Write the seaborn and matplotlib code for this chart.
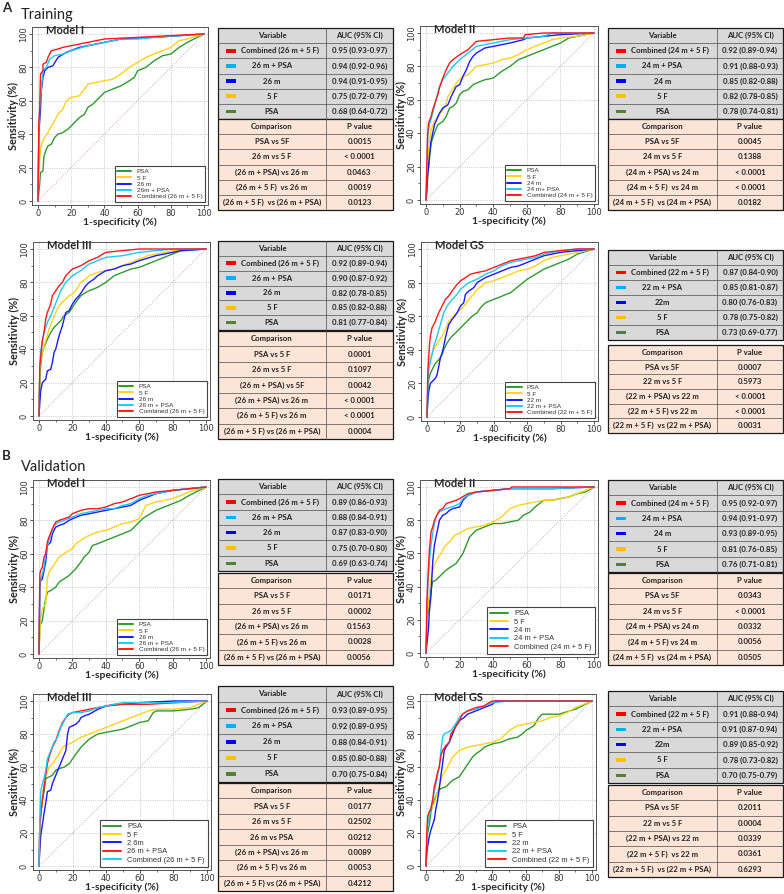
import numpy as np
import pandas as pd
import matplotlib
matplotlib.use("Agg")
import matplotlib.pyplot as plt
import seaborn as sns
from matplotlib.patches import Rectangle
from matplotlib.lines import Line2D

# ---------------- DATA ----------------
# ROC curves as (1-specificity %, sensitivity %) points
# Training - Model I
tr1_psa = [(0,0),(0.5,5),(1,10),(1.5,17),(3,18),(3.5,26),(4,28),(5,31),(6,33),(8,34),(10,38),(12,40),(15,41),(18,43),(20,45),(22,47),(25,50),(28,52),(30,56),(33,58),(35,60),(38,63),(40,65),(45,67),(50,69),(55,72),(58,74),(60,78),(65,80),(70,84),(75,87),(80,88),(85,92),(90,95),(100,100)]
tr1_5f = [(0,0),(0.5,17),(1,25),(1.5,31),(2.5,35),(4,38),(6,41),(8,45),(10,48),(12,52),(15,55),(17,60),(20,62),(25,63),(28,67),(30,70),(35,71),(40,72),(45,73),(50,76),(55,80),(60,83),(65,86),(70,88),(75,90),(80,92),(85,96),(90,97),(100,100)]
tr1_m = [(0,0),(0.5,40),(1.5,55),(2,66),(3,74),(4,78),(6,80),(9,81),(12,86),(17,89),(25,92),(30,93),(40,95),(50,97),(70,98),(100,100)]
tr1_mpsa = [(0,0),(0.5,40),(1,55),(2,67),(3,78),(5,80),(7,85),(10,87),(15,88),(20,90),(30,93),(40,95),(50,97),(60,97),(70,98),(100,100)]
tr1_comb = [(0,0),(0.5,47),(1,55),(1.5,76),(3,78),(3,82),(5,83),(6,86),(8,90),(12,91),(15,92),(20,93),(30,95),(40,97),(60,98),(80,99),(100,100)]
# Training - Model II
tr2_psa = [(0,0),(0.5,5),(1,15),(2,24),(3,34),(5,40),(7,45),(10,47),(12,50),(14,55),(16,56),(18,58),(20,63),(22,65),(25,66),(28,69),(30,70),(35,72),(40,73),(45,77),(50,80),(55,84),(60,86),(65,88),(70,90),(75,92),(80,94),(85,97),(90,98),(100,100)]
tr2_5f = [(0,0),(0.5,10),(1,22),(2,35),(3,42),(5,47),(8,51),(10,54),(12,58),(13,62),(15,65),(18,70),(20,72),(22,74),(25,75),(28,78),(30,80),(35,81),(40,82),(45,84),(50,85),(55,87),(60,90),(65,92),(70,94),(75,96),(80,97),(90,98),(100,100)]
tr2_m = [(0,0),(0.5,6),(1,15),(1.5,20),(2,26),(3,35),(5,45),(8,52),(10,55),(13,57),(15,62),(18,68),(20,69),(22,74),(24,78),(26,83),(28,86),(30,88),(35,91),(40,92),(50,94),(58,96),(60,97),(70,98),(80,99),(100,100)]
tr2_mpsa = [(0,0),(0.5,20),(1,38),(2,45),(4,52),(6,60),(8,68),(10,72),(13,76),(16,80),(20,84),(25,88),(30,92),(40,94),(50,96),(60,97),(70,98),(75,100),(100,100)]
tr2_comb = [(0,0),(0.5,22),(1,40),(1.5,46),(3,50),(4,54),(5,57),(6,60),(7,63),(8,67),(9,70),(10,73),(12,78),(14,82),(16,84),(20,87),(25,90),(30,95),(40,96),(50,97),(58,97),(59,99),(70,100),(100,100)]
# Training - Model III
tr3_psa = [(0,0),(0.5,25),(1,30),(2,38),(3,41),(5,46),(7,50),(9,53),(11,55),(13,57),(15,60),(18,62),(20,65),(22,68),(25,72),(28,74),(30,75),(35,77),(40,80),(45,84),(50,86),(55,88),(60,89),(65,91),(70,93),(75,95),(80,97),(85,99),(100,100)]
tr3_5f = [(0,0),(0.5,25),(1,33),(2,38),(4,45),(6,52),(8,57),(10,62),(12,66),(15,69),(18,72),(20,73),(22,75),(25,80),(28,82),(30,84),(35,86),(40,87),(45,88),(50,90),(55,92),(60,94),(65,96),(70,97),(80,99),(90,100),(100,100)]
tr3_m = [(0,0),(0.5,8),(1,15),(2,20),(4,22),(5,27),(7,28),(8,32),(9,38),(10,40),(11,44),(12,48),(14,54),(15,58),(16,62),(18,63),(20,67),(22,70),(24,72),(26,75),(28,78),(30,80),(33,82),(35,84),(40,87),(45,88),(50,90),(55,91),(60,93),(70,96),(80,98),(85,99),(100,100)]
tr3_mpsa = [(0,0),(0.5,30),(1,38),(2,45),(3,50),(5,56),(7,60),(9,65),(11,70),(13,75),(16,80),(20,84),(25,87),(30,91),(35,93),(40,95),(50,96),(60,98),(70,99),(80,100),(100,100)]
tr3_comb = [(0,0),(0.5,30),(1,35),(1.5,40),(2,45),(3,50),(4,58),(5,62),(7,67),(8,72),(10,75),(12,78),(14,80),(16,84),(18,86),(20,88),(25,90),(30,93),(35,95),(40,98),(50,99),(60,100),(100,100)]
# Training - Model GS
tr4_psa = [(0,0),(0.5,15),(1,22),(2,26),(3,28),(5,32),(7,34),(9,37),(10,40),(12,44),(14,47),(16,49),(18,51),(20,53),(23,56),(25,58),(27,60),(30,62),(32,65),(35,68),(40,70),(45,72),(50,74),(55,78),(60,82),(65,85),(70,88),(75,90),(80,92),(85,94),(90,97),(100,100)]
tr4_5f = [(0,0),(0.5,20),(1,28),(2,35),(3,38),(5,42),(7,45),(9,48),(11,52),(13,57),(15,59),(18,62),(20,64),(23,67),(25,70),(28,73),(30,76),(33,78),(35,80),(40,81),(45,83),(50,85),(55,87),(60,88),(65,90),(70,93),(75,95),(80,96),(90,98),(100,100)]
tr4_m = [(0,0),(0.5,10),(1,15),(2,20),(3,21),(5,23),(6,25),(7,30),(8,35),(9,38),(10,42),(11,47),(13,55),(15,58),(18,62),(20,66),(22,68),(23,73),(25,75),(28,77),(30,80),(35,83),(40,85),(45,87),(50,89),(55,90),(60,92),(65,94),(70,96),(80,98),(90,99),(100,100)]
tr4_mpsa = [(0,0),(0.5,20),(1,28),(2,33),(3,37),(4,42),(6,48),(8,55),(10,62),(12,66),(15,70),(18,73),(20,76),(25,80),(30,82),(35,85),(40,87),(45,90),(50,92),(55,93),(60,94),(65,95),(70,97),(80,99),(90,100),(100,100)]
tr4_comb = [(0,0),(0.5,27),(1,35),(1.5,43),(2,48),(3,53),(5,57),(7,62),(9,66),(11,70),(13,72),(15,75),(18,79),(20,81),(23,83),(26,85),(30,86),(35,87),(40,89),(45,91),(50,93),(60,95),(65,96),(70,98),(80,99),(90,100),(100,100)]
# Validation - Model I
va1_psa = [(0,0),(0.5,15),(1,18),(2,20),(3,27),(4,33),(5,37),(7,38),(10,40),(12,43),(15,45),(18,47),(20,49),(22,51),(25,55),(27,58),(30,61),(32,65),(35,66),(40,68),(45,70),(50,72),(55,74),(58,77),(60,79),(62,81),(65,83),(70,86),(75,88),(80,90),(85,92),(90,95),(100,100)]
va1_5f = [(0,0),(0.5,12),(1,22),(2,27),(4,30),(4.5,38),(5,45),(6,49),(8,52),(10,55),(12,58),(15,60),(18,62),(20,63),(22,66),(25,68),(28,70),(30,71),(35,73),(40,74),(45,76),(50,78),(55,79),(60,81),(62,85),(64,89),(67,90),(70,91),(75,92),(80,93),(85,95),(90,97),(100,100)]
va1_m = [(0,0),(0.5,40),(1,44),(2,45),(3,50),(4,55),(5,65),(7,67),(8,72),(10,76),(12,77),(15,78),(18,80),(20,81),(25,83),(30,84),(35,85),(40,86),(45,87),(50,88),(55,89),(60,92),(65,94),(70,96),(80,98),(90,99),(100,100)]
va1_mpsa = [(0,0),(0.5,42),(1,45),(2,48),(3,52),(4,60),(5,65),(7,71),(9,77),(12,79),(15,80),(20,82),(25,84),(30,85),(35,86),(40,87),(45,87),(50,89),(55,90),(60,93),(65,95),(70,96),(80,98),(90,99),(100,100)]
va1_comb = [(0,0),(0.5,48),(1,50),(2,52),(3,58),(4,60),(5,67),(6,70),(8,75),(10,79),(12,80),(15,81),(18,82),(20,84),(25,86),(30,87),(35,87),(40,88),(45,90),(50,91),(55,93),(60,95),(65,96),(70,97),(80,98),(90,99),(100,100)]
# Validation - Model II
va2_psa = [(0,0),(0.5,15),(1,23),(2,30),(3,38),(4,43),(6,44),(8,46),(10,48),(12,50),(15,52),(18,54),(20,57),(22,60),(24,65),(26,70),(28,72),(30,74),(35,76),(40,78),(45,78),(50,79),(55,80),(58,83),(62,85),(65,88),(70,92),(75,92),(80,93),(85,94),(90,96),(95,97),(100,100)]
va2_5f = [(0,0),(0.5,15),(1,25),(2,38),(3,45),(4,50),(5,53),(7,57),(9,60),(11,64),(13,66),(15,68),(17,71),(20,72),(23,74),(25,75),(30,76),(35,77),(40,79),(45,82),(48,85),(50,87),(55,89),(60,90),(65,91),(70,92),(75,92),(80,93),(85,94),(90,96),(100,100)]
va2_m = [(0,0),(0.5,5),(1,10),(1.5,15),(2,25),(3,35),(4,55),(5,65),(6,70),(7,75),(8,80),(10,83),(12,84),(14,86),(16,87),(20,88),(22,92),(25,95),(30,97),(40,98),(50,99),(75,99),(100,100)]
va2_mpsa = [(0,0),(0.5,20),(1,40),(2,55),(3,65),(4,72),(5,78),(6,82),(8,85),(10,86),(12,87),(15,88),(18,89),(20,90),(22,93),(25,95),(30,97),(40,98),(50,99),(75,99),(100,100)]
va2_comb = [(0,0),(0.5,30),(1,42),(2,62),(3,73),(4,76),(5,80),(7,84),(8,86),(10,87),(12,90),(15,91),(18,92),(20,93),(25,96),(30,97),(40,98),(50,99),(51,100),(100,100)]
# Validation - Model III
va3_psa = [(0,0),(0.5,25),(1,32),(2,40),(3,45),(4,53),(6,54),(8,55),(10,58),(12,59),(15,60),(18,62),(20,65),(22,68),(25,72),(28,75),(30,77),(35,80),(40,81),(45,82),(50,83),(55,85),(60,87),(65,88),(68,93),(70,94),(80,94),(90,95),(95,96),(100,100)]
va3_5f = [(0,0),(0.5,15),(1,30),(2,42),(3,50),(4,55),(5,57),(6,60),(8,62),(10,65),(12,68),(14,72),(16,73),(20,75),(25,78),(30,80),(35,82),(40,84),(45,86),(50,88),(55,90),(60,92),(65,94),(70,95),(80,95),(90,96),(100,100)]
va3_m = [(0,0),(0.5,10),(1,18),(2,25),(3,32),(4,38),(5,45),(7,46),(8,50),(10,55),(12,60),(14,65),(16,70),(17,80),(18,84),(20,85),(22,86),(24,88),(25,90),(27,91),(30,92),(35,95),(40,97),(50,98),(60,99),(80,100),(100,100)]
va3_red = [(0,0),(0.5,25),(1,30),(2,40),(3,48),(4,55),(5,62),(6,66),(8,72),(10,76),(12,82),(14,87),(16,90),(18,92),(20,93),(25,94),(30,95),(35,96),(40,97),(45,98),(65,98),(100,100)]
va3_cyan = [(0,0),(0.5,28),(1,45),(2,50),(3,53),(4,58),(5,65),(7,70),(9,75),(11,78),(13,84),(15,88),(17,92),(20,93),(25,93),(30,94),(35,96),(40,97),(50,99),(60,99),(80,99),(100,100)]
# Validation - Model GS
va4_psa = [(0,0),(0.5,15),(1,20),(2,25),(3,33),(4,37),(5,40),(7,45),(9,47),(12,48),(14,50),(16,52),(18,53),(20,54),(22,57),(24,60),(26,63),(28,66),(30,68),(33,70),(35,72),(40,74),(45,75),(50,77),(55,78),(58,80),(60,82),(65,85),(68,90),(70,92),(80,92),(90,95),(100,100)]
va4_5f = [(0,0),(0.5,22),(1,28),(2,33),(3,35),(5,38),(7,45),(10,55),(12,58),(14,62),(16,66),(18,68),(20,70),(25,72),(30,73),(35,74),(40,75),(45,77),(48,80),(50,82),(55,85),(60,86),(65,87),(70,88),(75,90),(80,91),(85,93),(90,96),(100,100)]
va4_m = [(0,0),(0.5,8),(1,12),(2,18),(3,22),(4,25),(5,28),(6,35),(7,40),(8,47),(9,55),(10,62),(11,70),(12,72),(14,75),(16,80),(18,85),(20,88),(23,90),(25,92),(30,94),(35,96),(40,98),(42,100),(100,100)]
va4_mpsa = [(0,0),(0.5,15),(1,25),(2,30),(3,35),(4,40),(5,45),(6,50),(7,55),(8,60),(9,70),(10,78),(11,80),(13,81),(15,82),(17,85),(19,88),(20,90),(22,92),(25,94),(30,95),(35,97),(40,99),(50,100),(100,100)]
va4_comb = [(0,0),(0.5,20),(1,30),(2,33),(3,35),(4,40),(5,48),(6,52),(7,57),(8,60),(9,67),(10,70),(12,73),(14,75),(15,80),(17,83),(19,86),(20,88),(22,92),(25,94),(30,96),(35,97),(38,99),(40,100),(100,100)]

# Panel titles and legend labels
titles = ["Model I", "Model II", "Model III", "Model GS", "Model I", "Model II", "Model III", "Model GS"]
leg_tr1 = ["PSA", "5 F", "26 m", "26m + PSA", "Combined (26 m + 5 F)"]
leg_tr2 = ["PSA", "5 F", "24 m", "24 m+ PSA", "Combined (24 m + 5 F)"]
leg_tr3 = ["PSA", "5 F", "26 m", "26 m + PSA", "Combined (26 m + 5 F)"]
leg_tr4 = ["PSA", "5 F", "22 m", "22 m + PSA", "Combined (22 m + 5 F)"]
leg_va1 = ["PSA", "5 F", "26 m", "26 m + PSA", "Combined (26 m + 5 F)"]
leg_va2 = ["PSA", "5 F", "24 m", "24 m + PSA", "Combined (24 m + 5 F)"]
leg_va3 = ["PSA", "5 F", "2 6m", "26 m + PSA", "Combined (26 m + 5 F)"]
leg_va4 = ["PSA", "5 F", "22 m", "22 m + PSA", "Combined (22 m + 5 F)"]

# AUC tables
auc_vars_tr1 = ["Combined (26 m + 5 F)", "26 m + PSA", "26 m", "5 F", "PSA"]
auc_vals_tr1 = ["0.95 (0.93-0.97)", "0.94 (0.92-0.96)", "0.94 (0.91-0.95)", "0.75 (0.72-0.79)", "0.68 (0.64-0.72)"]
auc_vars_tr2 = ["Combined (24 m + 5 F)", "24 m + PSA", "24 m", "5 F", "PSA"]
auc_vals_tr2 = ["0.92 (0.89-0.94)", "0.91 (0.88-0.93)", "0.85 (0.82-0.88)", "0.82 (0.78-0.85)", "0.78 (0.74-0.81)"]
auc_vars_tr3 = ["Combined (26 m + 5 F)", "26 m + PSA", "26 m", "5 F", "PSA"]
auc_vals_tr3 = ["0.92 (0.89-0.94)", "0.90 (0.87-0.92)", "0.82 (0.78-0.85)", "0.85 (0.82-0.88)", "0.81 (0.77-0.84)"]
auc_vars_tr4 = ["Combined (22 m + 5 F)", "22 m + PSA", "22m", "5 F", "PSA"]
auc_vals_tr4 = ["0.87 (0.84-0.90)", "0.85 (0.81-0.87)", "0.80 (0.76-0.83)", "0.78 (0.75-0.82)", "0.73 (0.69-0.77)"]
auc_vars_va1 = ["Combined (26 m + 5 F)", "26 m + PSA", "26 m", "5 F", "PSA"]
auc_vals_va1 = ["0.89 (0.86-0.93)", "0.88 (0.84-0.91)", "0.87 (0.83-0.90)", "0.75 (0.70-0.80)", "0.69 (0.63-0.74)"]
auc_vars_va2 = ["Combined (24 m + 5 F)", "24 m + PSA", "24 m", "5 F", "PSA"]
auc_vals_va2 = ["0.95 (0.92-0.97)", "0.94 (0.91-0.97)", "0.93 (0.89-0.95)", "0.81 (0.76-0.85)", "0.76 (0.71-0.81)"]
auc_vars_va3 = ["Combined (26 m + 5 F)", "26 m + PSA", "26 m", "5 F", "PSA"]
auc_vals_va3 = ["0.93 (0.89-0.95)", "0.92 (0.89-0.95)", "0.88 (0.84-0.91)", "0.85 (0.80-0.88)", "0.70 (0.75-0.84)"]
auc_vars_va4 = ["Combined (22 m + 5 F)", "22 m + PSA", "22m", "5 F", "PSA"]
auc_vals_va4 = ["0.91 (0.88-0.94)", "0.91 (0.87-0.94)", "0.89 (0.85-0.92)", "0.78 (0.73-0.82)", "0.70 (0.75-0.79)"]

# Comparison tables
cmp_tr1 = ["PSA vs 5F", "26 m vs 5 F", "(26 m + PSA) vs 26 m", "(26 m + 5 F)  vs 26 m", "(26 m + 5 F)  vs (26 m + PSA)"]
pv_tr1 = ["0.0015", "< 0.0001", "0.0463", "0.0019", "0.0123"]
cmp_tr2 = ["PSA vs 5F", "24 m vs 5 F", "(24 m + PSA) vs 24 m", "(24 m + 5 F)  vs 24 m", "(24 m + 5 F)  vs (24 m + PSA)"]
pv_tr2 = ["0.0045", "0.1388", "< 0.0001", "< 0.0001", "0.0182"]
cmp_tr3 = ["PSA vs 5 F", "26 m vs 5 F", "(26 m + PSA) vs 5F", "(26 m + PSA) vs 26 m", "(26 m + 5 F) vs 26 m", "(26 m + 5 F) vs (26 m + PSA)"]
pv_tr3 = ["0.0001", "0.1097", "0.0042", "< 0.0001", "< 0.0001", "0.0004"]
cmp_tr4 = ["PSA vs 5F", "22 m vs 5 F", "(22 m + PSA) vs 22 m", "(22 m + 5 F) vs 22 m", "(22 m + 5 F)  vs (22 m + PSA)"]
pv_tr4 = ["0.0007", "0.5973", "< 0.0001", "< 0.0001", "0.0031"]
cmp_va1 = ["PSA vs 5 F", "26 m vs 5 F", "(26 m + PSA) vs 26 m", "(26 m + 5 F) vs 26 m", "(26 m + 5 F) vs (26 m + PSA)"]
pv_va1 = ["0.0171", "0.0002", "0.1563", "0.0028", "0.0056"]
cmp_va2 = ["PSA vs 5F", "24 m vs 5 F", "(24 m + PSA) vs 24 m", "(24 m + 5 F) vs 24 m", "(24 m + 5 F)  vs (24 m + PSA)"]
pv_va2 = ["0.0343", "< 0.0001", "0.0332", "0.0056", "0.0505"]
cmp_va3 = ["PSA vs 5 F", "26 m vs 5 F", "26 m vs PSA", "(26 m + PSA) vs 26 m", "(26 m + 5 F) vs 26 m", "(26 m + 5 F) vs (26 m + PSA)"]
pv_va3 = ["0.0177", "0.2502", "0.0212", "0.0089", "0.0053", "0.4212"]
cmp_va4 = ["PSA vs 5F", "22 m vs 5 F", "(22 m + PSA) vs 22 m", "(22 m + 5 F)  vs 22 m", "(22 m + 5 F)  vs (22 m + PSA)"]
pv_va4 = ["0.2011", "0.0004", "0.0339", "0.0361", "0.6293"]

# ---------------- STYLE ----------------
sns.set_theme(style="white")
plt.rcParams["font.family"] = ["DejaVu Sans"]
LBL_FONT = ["Lato", "DejaVu Sans"]
TBL_FONT = ["Lato", "DejaVu Sans"]
LEG_FONT = ["Liberation Sans", "DejaVu Sans"]

C_PSA, C_5F, C_M, C_CY, C_RED = "#2f9a2f", "#ffd21a", "#1a1aff", "#1ec8ff", "#ff1a1a"
SW_COLORS = ["#ff0000", "#00b0f0", "#0000ff", "#ffc000", "#548235"]
GREY_FILL = "#d9d9d9"
PEACH_FILL = "#fce4d6"

W, H = 784, 894
fig = plt.figure(figsize=(W / 100, H / 100), dpi=100)
fig.patch.set_facecolor("white")

ov = fig.add_axes([0, 0, 1, 1])
ov.set_xlim(0, W)
ov.set_ylim(H, 0)
ov.axis("off")
ov.patch.set_alpha(0)

XL = (-3.5, 102.5)
YL = (-2.5, 104.0)


def draw_roc(anchor, title, curves, labels, colors, big):
    x0, x100, y100, y0 = anchor
    sx = (x100 - x0) / 100.0
    sy = (y0 - y100) / 100.0
    left = x0 + XL[0] * sx
    right = x0 + XL[1] * sx
    top = y100 - (YL[1] - 100) * sy
    bottom = y0 - YL[0] * sy
    ax = fig.add_axes([left / W, 1 - bottom / H, (right - left) / W, (bottom - top) / H])
    rows = []
    for lab, pts in zip(labels, curves):
        for i, (fx, fy) in enumerate(pts):
            rows.append({"fpr": fx, "tpr": fy, "var": lab, "k": i})
    df = pd.DataFrame(rows)
    ax.grid(True, which="major", color="#b8b8b8", linestyle=":", linewidth=0.6)
    ax.plot([0, 100], [0, 100], color="#d8a0a0", linestyle=":", linewidth=0.7, zorder=1)
    sns.lineplot(data=df, x="fpr", y="tpr", hue="var", hue_order=labels,
                 palette=dict(zip(labels, colors)), sort=False, estimator=None,
                 linewidth=1.0, ax=ax, legend=False, zorder=3)
    ax.set_xlim(*XL)
    ax.set_ylim(*YL)
    ax.set_xticks(range(0, 101, 20))
    ax.set_yticks(range(0, 101, 20))
    ax.set_xticks(range(0, 101, 10), minor=True)
    ax.set_yticks(range(0, 101, 10), minor=True)
    ax.tick_params(axis="both", which="major", labelsize=6, length=2, width=0.6,
                   pad=1, colors="#333333", bottom=True, left=True, direction="out")
    ax.tick_params(axis="both", which="minor", length=1.3, width=0.5, bottom=True,
                   left=True, colors="#333333", direction="out")
    for lab in ax.get_yticklabels():
        lab.set_rotation(90)
        lab.set_va("center")
    for s in ax.spines.values():
        s.set_color("#555555")
        s.set_linewidth(0.7)
    ax.set_xlabel("1-specificity (%)", fontsize=7.5, fontweight="bold", family=LBL_FONT, labelpad=-0.5)
    ax.set_ylabel("Sensitivity (%)", fontsize=7.8, fontweight="bold", family=LBL_FONT, labelpad=0)
    ax.text(5, 102, title, fontsize=8, fontweight="bold", family=LBL_FONT,
            ha="left", va="center", zorder=5)
    handles = [Line2D([0], [0], color=c, lw=1.4) for c in colors]
    fs = 5.4 if big else 4.6
    leg = ax.legend(handles, labels, loc="lower right", bbox_to_anchor=(100.5, -0.5),
                    bbox_transform=ax.transData, frameon=True, fancybox=False,
                    prop={"family": LEG_FONT, "size": fs},
                    edgecolor="#444444", framealpha=1, borderaxespad=0,
                    handlelength=2.4 if big else 2.2, handletextpad=0.8,
                    labelspacing=0.15 if big else 0.12, borderpad=0.4)
    leg.get_frame().set_linewidth(0.8)
    for t in leg.get_texts():
        t.set_color("#333333")
    leg.set_zorder(6)
    return ax


def draw_table(xl, xs, xr, yt, yb, header, col1, col2, fill, swatch=False):
    n = len(col1) + 1
    h = (yb - yt) / n
    ov.add_patch(Rectangle((xl, yt), xr - xl, yb - yt, facecolor=fill,
                           edgecolor="#1a1a1a", linewidth=0.9, zorder=1))
    for i in range(1, n):
        ov.plot([xl, xr], [yt + i * h, yt + i * h], color="#4d4d4d", lw=0.5, zorder=2)
    ov.plot([xs, xs], [yt, yb], color="#4d4d4d", lw=0.5, zorder=2)
    c1 = (xl + xs) / 2
    c2 = (xs + xr) / 2
    fs = 5.6
    kw = dict(fontsize=fs, fontweight="bold", family=TBL_FONT, color="#222222",
              va="center", zorder=3)
    ov.text(c1, yt + h / 2, header[0], ha="center", **kw)
    ov.text(c2, yt + h / 2, header[1], ha="center", **kw)
    for i, (a, b) in enumerate(zip(col1, col2)):
        yc = yt + (i + 1.5) * h
        if swatch:
            ov.add_patch(Rectangle((xl + 8, yc - 1.8), 10, 3.6, facecolor=SW_COLORS[i],
                                   edgecolor="none", zorder=3))
            if i == 0:
                ov.text(xl + 23, yc, a, ha="left", **kw)
            else:
                ov.text(c1, yc, a, ha="center", **kw)
        else:
            ov.text(c1, yc, a, ha="center", **kw)
        ov.text(c2, yc, b, ha="center", **kw)


# ---------------- LAYOUT ----------------
cols5 = [C_PSA, C_5F, C_M, C_CY, C_RED]
cols_va3 = [C_PSA, C_5F, C_M, C_RED, C_CY]

panels = [
    ((38, 204, 34, 201), [tr1_psa, tr1_5f, tr1_m, tr1_mpsa, tr1_comb], leg_tr1, cols5, False),
    ((426, 594, 33, 200), [tr2_psa, tr2_5f, tr2_m, tr2_mpsa, tr2_comb], leg_tr2, cols5, False),
    ((39, 206, 249, 416), [tr3_psa, tr3_5f, tr3_m, tr3_mpsa, tr3_comb], leg_tr3, cols5, False),
    ((427, 594, 249, 417), [tr4_psa, tr4_5f, tr4_m, tr4_mpsa, tr4_comb], leg_tr4, cols5, False),
    ((39, 206, 487, 654), [va1_psa, va1_5f, va1_m, va1_mpsa, va1_comb], leg_va1, cols5, False),
    ((426, 594, 487, 653), [va2_psa, va2_5f, va2_m, va2_mpsa, va2_comb], leg_va2, cols5, True),
    ((39, 207, 701, 866), [va3_psa, va3_5f, va3_m, va3_red, va3_cyan], leg_va3, cols_va3, True),
    ((426, 592, 701, 866), [va4_psa, va4_5f, va4_m, va4_mpsa, va4_comb], leg_va4, cols5, True),
]
for (anc, curves, labs, cols, big), ttl in zip(panels, titles):
    draw_roc(anc, ttl, curves, labs, cols, big)

tables = [
    ((218, 326, 393), (28, 119), (119, 210), auc_vars_tr1, auc_vals_tr1, cmp_tr1, pv_tr1),
    ((608, 717, 783), (28, 119), (119, 210), auc_vars_tr2, auc_vals_tr2, cmp_tr2, pv_tr2),
    ((218, 326, 393), (241, 330), (331, 439), auc_vars_tr3, auc_vals_tr3, cmp_tr3, pv_tr3),
    ((608, 717, 783), (250, 340), (345, 433), auc_vars_tr4, auc_vals_tr4, cmp_tr4, pv_tr4),
    ((218, 326, 393), (479, 571), (573, 665), auc_vars_va1, auc_vals_va1, cmp_va1, pv_va1),
    ((608, 717, 783), (480, 572), (573, 665), auc_vars_va2, auc_vals_va2, cmp_va2, pv_va2),
    ((218, 326, 393), (686, 782), (783, 891), auc_vars_va3, auc_vals_va3, cmp_va3, pv_va3),
    ((608, 717, 783), (691, 783), (785, 877), auc_vars_va4, auc_vals_va4, cmp_va4, pv_va4),
]
for (xl, xs, xr), (at, ab), (pt, pb), v1, v2, c1, c2 in tables:
    draw_table(xl, xs, xr, at, ab, ("Variable", "AUC (95% CI)"), v1, v2, GREY_FILL, swatch=True)
    draw_table(xl, xs, xr, pt, pb, ("Comparison", "P value"), c1, c2, PEACH_FILL)

# Section labels
ov.text(2, 8, "A", fontsize=9.5, fontweight="bold", family=LBL_FONT, ha="left", va="center")
ov.text(21, 15, "Training", fontsize=10.5, family=LBL_FONT, ha="left", va="center", color="#222222")
ov.text(2, 456, "B", fontsize=9.5, fontweight="bold", family=LBL_FONT, ha="left", va="center")
ov.text(21, 467, "Validation", fontsize=10.5, family=LBL_FONT, ha="left", va="center", color="#222222")

fig.savefig("out.png", dpi=100)
